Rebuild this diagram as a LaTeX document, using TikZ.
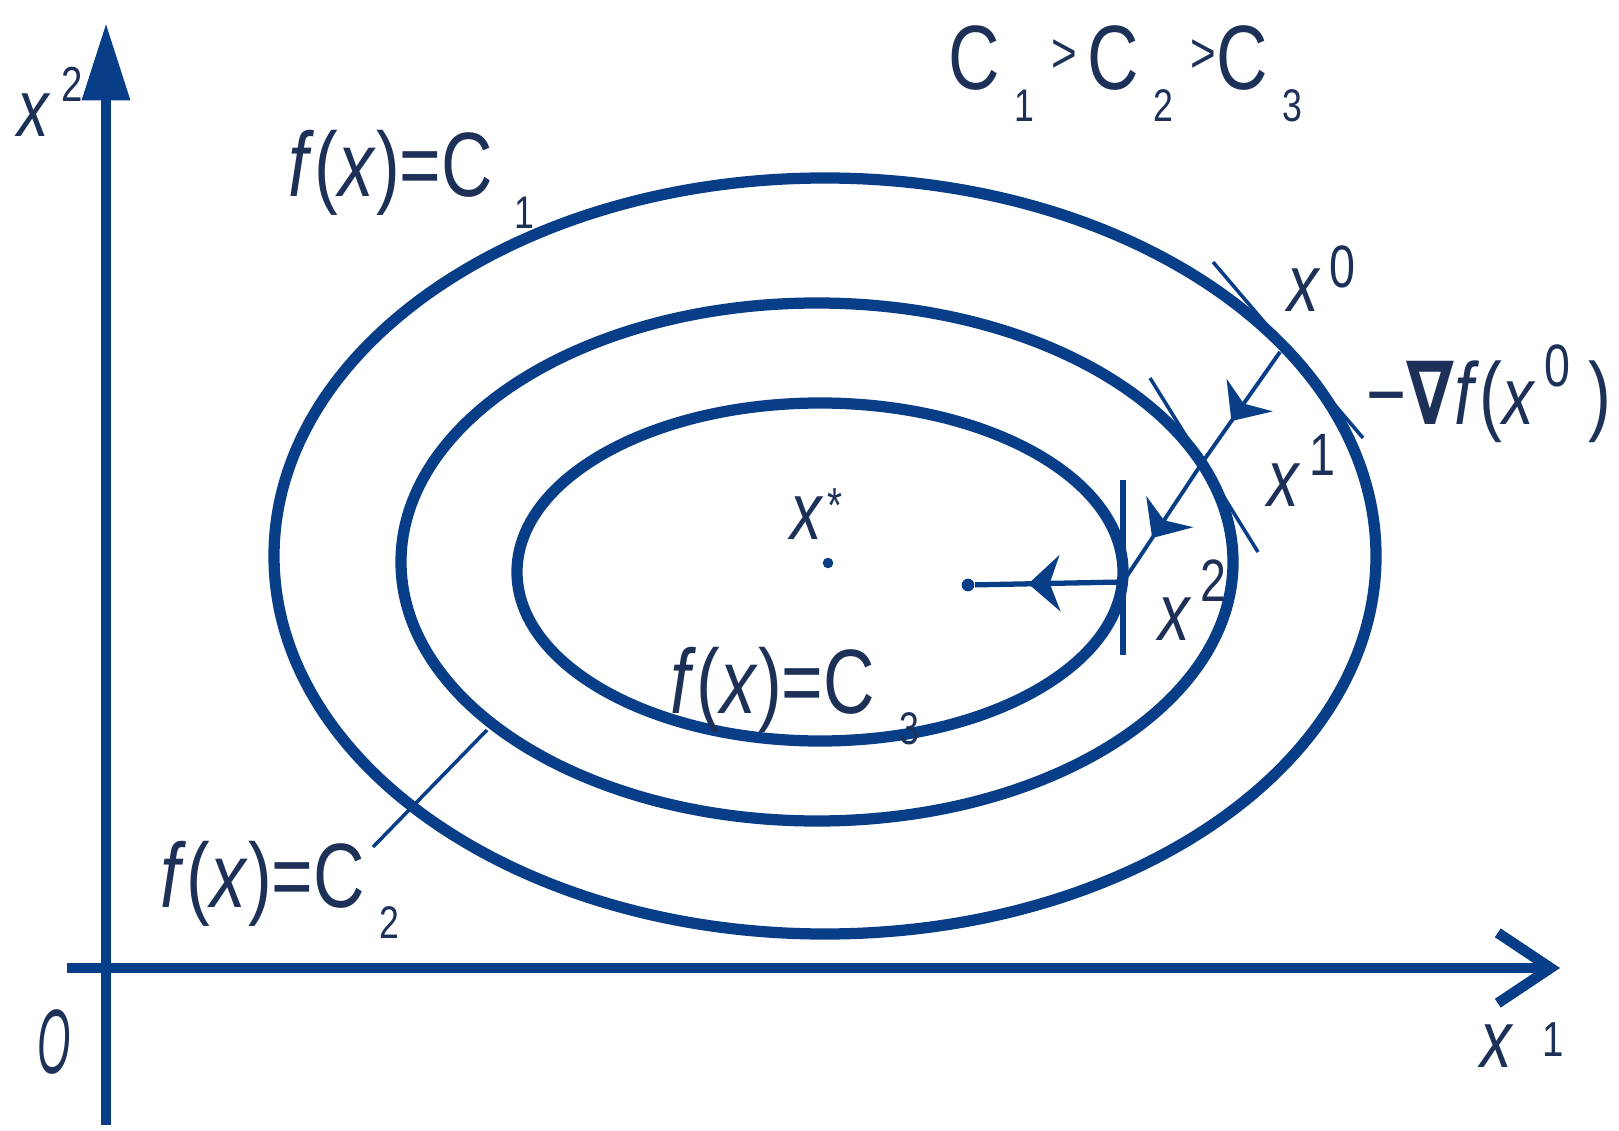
\documentclass[tikz,border=0pt]{standalone}
\usepackage{fontspec}
\setmainfont{Liberation Sans}[FakeStretch=0.78]
\newfontfamily\nablafont{DejaVu Sans}[FakeStretch=0.78]
\usetikzlibrary{arrows.meta,decorations.markings}

\definecolor{curveblue}{RGB}{8,62,135}
\definecolor{inkblue}{RGB}{28,48,88}
\newcommand{\xv}{{\fontsize{23}{25}\selectfont\textit{x}}}
\newcommand{\subidx}[2][4pt]{\hspace{#1}\raisebox{-9pt}{\fontsize{13}{13}\selectfont #2}}
\newcommand{\supidx}[2][7pt]{\hspace{2.5pt}\raisebox{#1}{\fontsize{17}{17}\selectfont #2}}

\begin{document}
\begin{tikzpicture}[
    x=0.01cm, y=-0.01cm,
    font=\fontsize{26}{28}\selectfont,
    level/.style={curveblue, line width=3.2pt},
    axis/.style={curveblue, line width=3pt},
    tangent/.style={curveblue, line width=1pt},
    descent/.style={curveblue, line width=1.1pt,
      decoration={markings, mark=at position .64 with {\arrow{Stealth[length=9pt,width=16pt]}}},
      postaction={decorate}},
    dot/.style={circle, fill=curveblue, inner sep=0pt, minimum size=#1},
    lbl/.style={text=inkblue, inner sep=0pt, anchor=base west}
  ]
  \useasboundingbox (0,0) rectangle (1619,1131);

  % axes
  \coordinate (ybot) at (106,1125);
  \coordinate (ytip) at (106,23);
  \coordinate (xleft) at (67,968);
  \coordinate (xtip) at (1560,968);
  \draw[axis, -{Triangle[length=22pt,width=13pt]}] (ybot) -- (ytip);
  \draw[axis, -{Straight Barb[length=15pt,width=20pt]}] (xleft) -- (xtip);

  % level sets
  \draw[level] (825,556) ellipse [x radius=551, y radius=378];
  \draw[level] (817,562) ellipse [x radius=416, y radius=259];
  \draw[level] (820,572) ellipse [x radius=303, y radius=169];

  % iterates
  \coordinate (x0) at (1280,352);
  \coordinate (x1) at (1204,460);
  \coordinate (x2) at (1123,582);
  \node[dot=3.6pt] (tip) at (968,585) {};
  \node[dot=3pt] (xstar) at (828,563) {};

  % tangents
  \coordinate (t0a) at (1213,262);
  \coordinate (t0b) at (1363,438);
  \coordinate (t1a) at (1150,378);
  \coordinate (t1b) at (1258,552);
  \coordinate (t2a) at (1123,480);
  \coordinate (t2b) at (1123,655);
  \draw[tangent] (t0a) -- (t0b);
  \draw[tangent] (t1a) -- (t1b);
  \draw[tangent, line width=1.5pt] (t2a) -- (t2b);

  \draw[descent] (x0) -- (x1);
  \draw[descent] (x1) -- (x2);
  \draw[descent, line width=1.5pt] (x2) -- (tip);

  % leader to C2
  \coordinate (c2a) at (373,847);
  \coordinate (c2b) at (487,730);
  \draw[tangent] (c2a) -- (c2b);

  % labels
  \node[lbl] (ylabel) at (17,137) {\xv\hspace{3pt}\raisebox{10pt}{\fontsize{14}{14}\selectfont 2}};
  \node[lbl] (xlabel) at (1480,1067) {\xv\hspace{8pt}\raisebox{3pt}{\fontsize{14}{14}\selectfont 1}};
  \node[lbl] (orig) at (37,1073) {\scalebox{.6}[1]{\textit{O}}};
  \node[lbl] (order) at (948,90) {C\subidx{1}\hspace{5pt}\raisebox{5pt}{\fontsize{16}{16}\selectfont >}\hspace{3pt}C\subidx{2}\hspace{5pt}\raisebox{5pt}{\fontsize{16}{16}\selectfont >}C\subidx{3}};
  \node[lbl] (fcone) at (288,197) {\textit{f}(\textit{x})=C\subidx[6pt]{1}};
  \node[lbl] (fctwo) at (160,907) {\textit{f}(\textit{x})=C\subidx{2}};
  \node[lbl] (fcthree) at (670,713) {\textit{f}(\textit{x})=C\subidx[7pt]{3}};
  \node[lbl] (xstarlbl) at (790,540) {\xv\hspace{1pt}\raisebox{5pt}{\fontsize{14}{14}\selectfont *}};
  \node[lbl] (xzero) at (1287,312) {\xv\supidx{0}};
  \node[lbl] (xonelbl) at (1267,507) {\xv\supidx[9pt]{1}};
  \node[lbl] (xtwolbl) at (1158,640) {\xv\supidx[11pt]{2}};
  \node[lbl, font=\fontsize{25}{27}\selectfont] (grad) at (1366,425) {−{\nablafont\bfseries ∇}\textit{f}(\xv\supidx[11pt]{0}\hspace{5pt})};
\end{tikzpicture}
\end{document}
